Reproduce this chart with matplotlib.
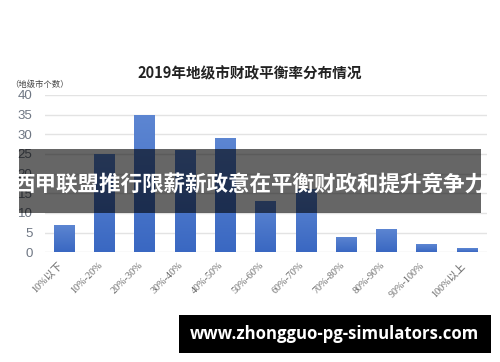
import numpy as np
import matplotlib
matplotlib.use('Agg')
import matplotlib.pyplot as plt
from matplotlib.patches import Rectangle

#chart data
categories = ['10%以下', '10%-20%', '20%-30%', '30%-40%', '40%-50%', '50%-60%',
              '60%-70%', '70%-80%', '80%-90%', '90%-100%', '100%以上']
counts = [7, 25, 35, 26, 29, 13, 16, 4, 6, 2, 1]
yticks = [0, 5, 10, 15, 20, 25, 30, 35, 40]

title = '2019年地级市财政平衡率分布情况'
unit_label = '（地级市个数）'
banner = '西甲联盟推行限薪新政意在平衡财政和提升竞争力'
site = 'www.zhongguo-pg-simulators.com'

plt.rcParams['font.family'] = ['Noto Sans CJK SC', 'DejaVu Sans']

fig = plt.figure(figsize=(5, 3.62), dpi=100)
ax = fig.add_axes([0.09, 0.303, 0.884, 0.435])

x = np.arange(len(categories))
bars = ax.bar(x, counts, width=0.5, color='#4472c4', zorder=2)

#vertical gradient inside each bar, lighter at the top
grad = np.linspace(0, 1, 100).reshape(-1, 1)
cmap = matplotlib.colors.LinearSegmentedColormap.from_list('b', ['#3a68c2', '#5d86d2'])
for b in bars:
    bx, by = b.get_x(), b.get_y()
    im = ax.imshow(grad, cmap=cmap, origin='lower', aspect='auto',
                   extent=[bx, bx + b.get_width(), by, by + b.get_height()], zorder=3)
    im.set_clip_path(b)

ax.set_xlim(-0.47, len(categories) - 0.5)
ax.set_ylim(0, 40)
ax.set_yticks(yticks)
ax.yaxis.grid(True, color='#e3e3e3', linewidth=1, zorder=0)
ax.set_axisbelow(True)
for s in ax.spines.values():
    s.set_visible(False)
ax.tick_params(axis='both', length=0)
ax.tick_params(axis='y', labelsize=9.5, labelcolor='#6e7683', pad=9)
for lbl in ax.get_yticklabels():
    lbl.set_family(['Liberation Sans', 'DejaVu Sans'])
ax.set_xticks(x)
ax.set_xticklabels(categories, rotation=45, ha='right', va='top', fontsize=7.3,
                   color='#666666', family=['Liberation Serif', 'Noto Sans CJK SC'])
ax.tick_params(axis='x', pad=6)

fig.text(0.5, 0.798, title, ha='center', va='center', fontsize=10.5,
         fontweight='bold', color='#222222')
fig.text(0.02, 0.768, unit_label, ha='left', va='center', fontsize=6,
         color='#444444')

#dark translucent banner over the chart
fig.patches.append(Rectangle((0.038, 0.4116), 0.924, 0.1768, transform=fig.transFigure,
                             facecolor='black', alpha=0.6, zorder=5))
fig.text(0.5, 0.489, banner, ha='center', va='center', fontsize=15.5,
         fontweight='bold', color='white', zorder=6)

#black box with site name at the bottom
fig.patches.append(Rectangle((0.358, 0.026), 0.624, 0.104, transform=fig.transFigure,
                             facecolor='black', zorder=5))
fig.text(0.668, 0.078, site, ha='center', va='center', fontsize=12.1,
         fontweight='bold', color='white', family=['Open Sans', 'DejaVu Sans'], zorder=6)

fig.savefig('out.png', dpi=100)
